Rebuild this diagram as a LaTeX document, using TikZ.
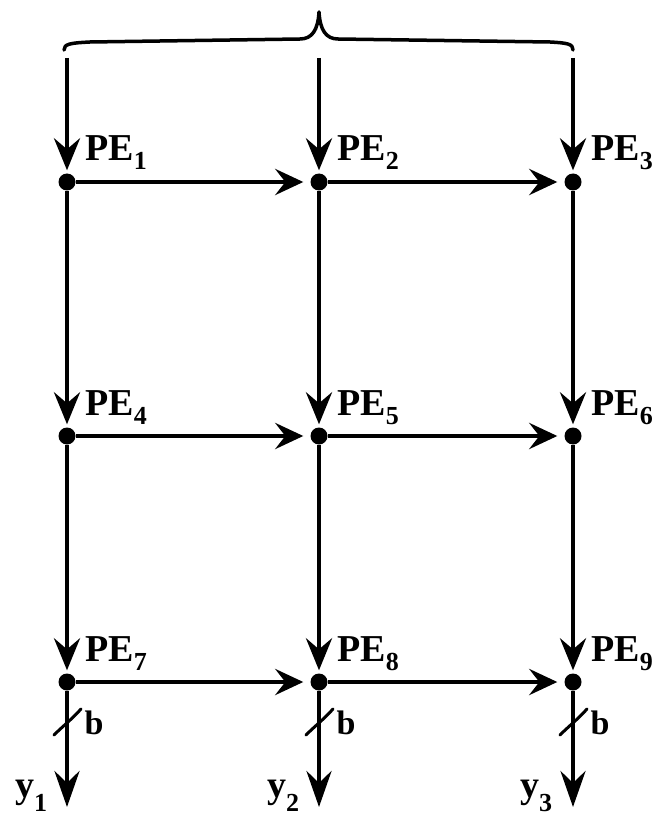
\documentclass[tikz,border=0pt]{standalone}
\usepackage{fontspec}
\setmainfont{Liberation Serif}
\usetikzlibrary{arrows.meta}

\newcommand\PEsub[1]{PE\raisebox{-9pt}{\fontsize{26}{26}\selectfont #1}}
\newcommand\ysub[1]{y\raisebox{-14pt}{\fontsize{26}{26}\selectfont #1}}

\tikzset{
  gridline/.style={line width=4.5pt},
  harrow/.style={gridline, -{Stealth[length=28pt,width=26pt,inset=10pt]}, shorten >=7pt},
  varrow/.style={gridline, -{Stealth[length=32pt,width=26pt,inset=11pt]}, shorten >=3pt},
  outarrow/.style={gridline, -{Stealth[length=36pt,width=25pt,inset=12pt]}},
  pe/.style={circle, fill, inner sep=0pt, minimum size=17pt},
  pelabel/.style={inner sep=0pt, font=\fontsize{38}{40}\selectfont\bfseries, anchor=base west},
  ylabel/.style={inner sep=0pt, font=\fontsize{38}{40}\selectfont\bfseries, anchor=base west},
  blabel/.style={inner sep=0pt, font=\fontsize{34}{36}\selectfont\bfseries},
  slash/.style={line width=3pt, line cap=round},
  bracestyle/.style={line width=3.5pt, line cap=round, line join=round},
}

\begin{document}
\begin{tikzpicture}[x=1pt, y=-1pt]
  \useasboundingbox (0,0) rectangle (661,818);

  % brace over the three input columns
  \draw[bracestyle] (64,50) .. controls (64,44) and (70,43) .. (90,42)
    -- (300,39) .. controls (312,39) and (318,30) .. (319,12)
    .. controls (320,30) and (326,39) .. (338,39)
    -- (550,42) .. controls (568,43) and (573,44) .. (573,50);

  % column inputs
  \coordinate (t1) at (67,58);
  \coordinate (t2) at (319,58);
  \coordinate (t3) at (573,58);

  % processing elements
  \node[pe] (d1) at (67,182) {};
  \node[pe] (d2) at (319,182) {};
  \node[pe] (d3) at (573,182) {};
  \node[pe] (d4) at (67,436) {};
  \node[pe] (d5) at (319,436) {};
  \node[pe] (d6) at (573,436) {};
  \node[pe] (d7) at (67,682) {};
  \node[pe] (d8) at (319,682) {};
  \node[pe] (d9) at (573,682) {};

  % column outputs
  \coordinate (o1) at (67,807);
  \coordinate (o2) at (319,807);
  \coordinate (o3) at (573,807);

  % vertical data flow
  \foreach \a/\b in {t1/d1,t2/d2,t3/d3,d1/d4,d2/d5,d3/d6,d4/d7,d5/d8,d6/d9}
    \draw[varrow] (\a) -- (\b);
  \foreach \a/\b in {d7/o1,d8/o2,d9/o3}
    \draw[outarrow] (\a) -- (\b);

  % horizontal data flow
  \foreach \a/\b in {d1/d2,d2/d3,d4/d5,d5/d6,d7/d8,d8/d9}
    \draw[harrow] (\a) -- (\b);

  % labels of the processing elements
  \foreach \i in {1,...,9}
    \node[pelabel] (l\i) at ([xshift=18pt,yshift=21pt]d\i) {\PEsub{\i}};

  % bus width marks on the outputs
  \foreach \i/\x in {1/67,2/319,3/573} {
    \coordinate (s\i) at (\x,722);
    \draw[slash] ([shift={(-13,13)}]s\i) .. controls ([shift={(-4,4)}]s\i) and ([shift={(4,-2)}]s\i) .. ([shift={(14,-13)}]s\i);
    \node[blabel] (b\i) at ([xshift=27pt,yshift=-1pt]s\i) {b};
  }

  % output names
  \node[ylabel] (y1) at (15,797) {\ysub{1}};
  \node[ylabel] (y2) at (267,797) {\ysub{2}};
  \node[ylabel] (y3) at (520,797) {\ysub{3}};
\end{tikzpicture}
\end{document}
